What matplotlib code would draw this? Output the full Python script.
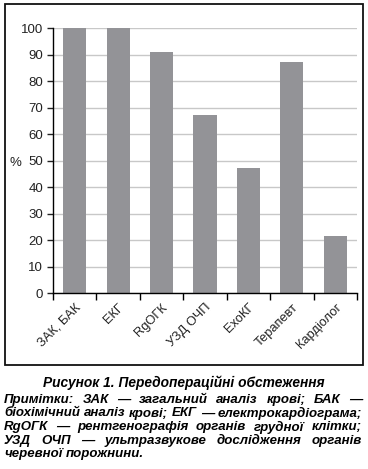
import matplotlib
matplotlib.use("Agg")
import matplotlib.pyplot as plt
from matplotlib import patches
import numpy as np

plt.rcParams['font.family'] = ['Liberation Sans', 'DejaVu Sans']

categories = ["ЗАК, БАК", "ЕКГ", "RgОГК", "УЗД ОЧП", "ЕхоКГ", "Терапевт", "Кардіолог"]
values = [100, 100, 91, 67, 47, 87, 21.5]
yticks = list(range(0, 101, 10))

caption = "Рисунок 1. Передопераційні обстеження"
notes = [
    "Примітки: ЗАК — загальний аналіз крові; БАК —",
    "біохімічний аналіз крові; ЕКГ — електрокардіограма;",
    "RgОГК — рентгенографія органів грудної клітки;",
    "УЗД ОЧП — ультразвукове дослідження органів",
    "черевної порожнини.",
]

W, H = 368, 469
fig = plt.figure(figsize=(W / 100, H / 100), dpi=100)
ax = fig.add_axes([53 / W, 1 - 293 / H, (357 - 53) / W, (293 - 28) / H])

x = np.arange(len(categories))
ax.bar(x, values, width=0.53, color="#939397", zorder=2, clip_on=False)

ax.set_xlim(-0.5, len(categories) - 0.5)
ax.set_ylim(0, 100)
ax.set_yticks(yticks)
ax.yaxis.grid(True, color="#c8c8c8", lw=1.0, zorder=0)
ax.set_axisbelow(True)
for s in ("top", "right"):
    ax.spines[s].set_visible(False)
ax.spines["left"].set_linewidth(1.0)
ax.spines["bottom"].set_linewidth(1.0)
ax.tick_params(axis="y", length=4, width=1.0, labelsize=9.5, pad=3, colors="#222222")

ax.set_xticks(x)
ax.set_xticklabels(categories, rotation=45, ha="right", rotation_mode="anchor",
                   fontsize=9.3, color="#222222")
ax.tick_params(axis="x", which="major", length=0, pad=6)
ax.set_xticks(np.arange(-0.5, len(categories), 1.0), minor=True)
ax.tick_params(axis="x", which="minor", length=5, width=1.0)

fig.text(15 / W, 1 - 163 / H, "%", fontsize=9.5, ha="center", va="center", color="#222222")

fig.patches.append(patches.Rectangle((4.5 / W, 1 - 365 / H), (363 - 4.5) / W, (365 - 4.5) / H,
                                     transform=fig.transFigure, fill=False,
                                     edgecolor="#111111", lw=1.3))

fig.text(184 / W, 1 - 383 / H, caption, fontsize=9.9, fontweight="bold",
         fontstyle="italic", ha="center", va="center")

renderer = fig.canvas.get_renderer()
x0, x1 = 4, 362
line_ys = [400, 413.5, 427, 440.5, 454]
for i, (line, yy) in enumerate(zip(notes, line_ys)):
    words = line.split(" ")
    texts = [fig.text(0, 1 - yy / H, w, fontsize=9.5, fontweight="bold",
                      fontstyle="italic", ha="left", va="center") for w in words]
    widths = [t.get_window_extent(renderer).width for t in texts]
    if i < len(notes) - 1 and len(words) > 1:
        gap = (x1 - x0 - sum(widths)) / (len(words) - 1)
    else:
        gap = 3.0
    pos = x0
    for t, w in zip(texts, widths):
        t.set_x(pos / W)
        pos += w + gap

fig.savefig("out.png", dpi=100)
